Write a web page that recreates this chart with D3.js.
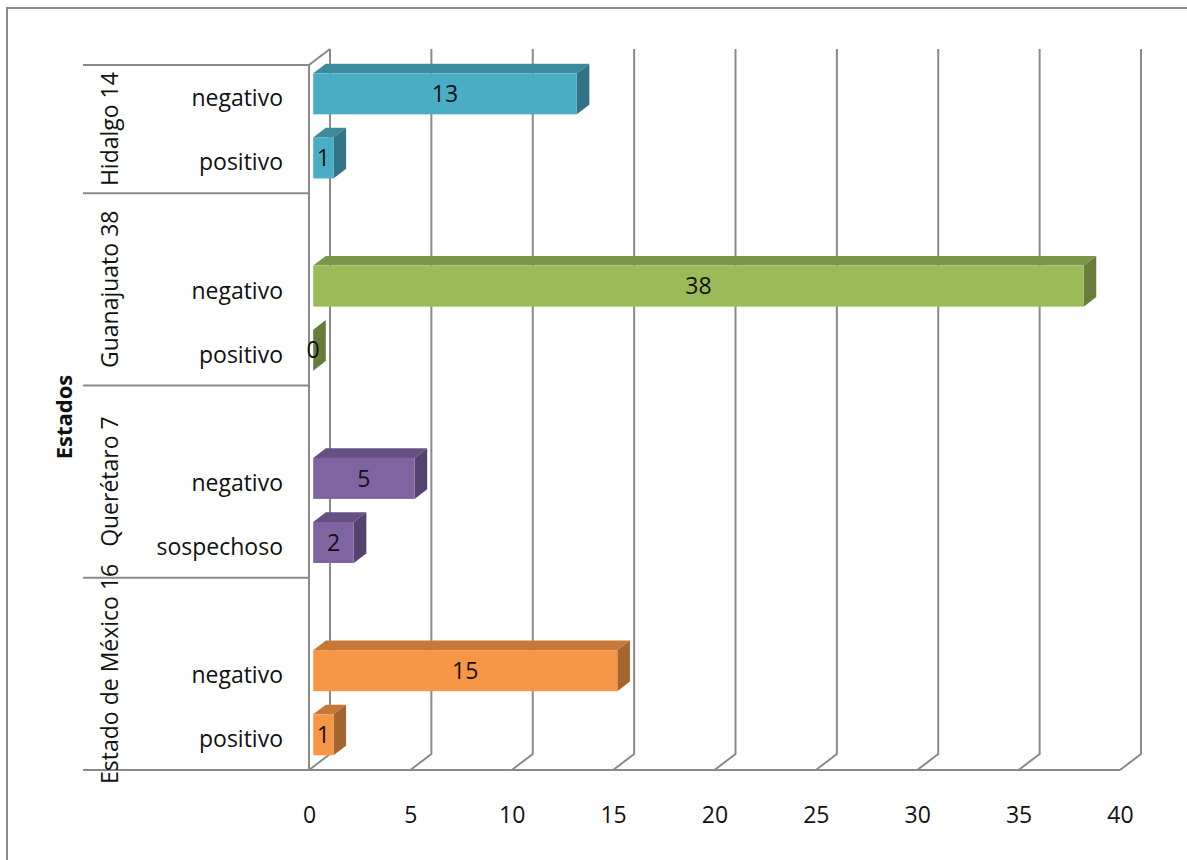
<!DOCTYPE html>
<html>
<head>
<meta charset="utf-8">
<script src="https://cdn.jsdelivr.net/npm/d3@7"></script>
<style>
  html, body { margin: 0; padding: 0; background: #fff; }
  svg { display: block; }
  text { font-family: "Open Sans", "Noto Sans", sans-serif; fill: #111; }
</style>
</head>
<body>
<svg id="chart" width="1187" height="860"></svg>
<script>
// Casos por estado y resultado (filas vacías separan los grupos)
const estados = ["Hidalgo 14", "Guanajuato 38", "Querétaro 7", "Estado de México 16"];
const filaEstado = [0, 0, 1, 1, 1, 2, 2, 2, 3, 3, 3];
const resultados = ["negativo", "positivo", "", "negativo", "positivo", "", "negativo", "sospechoso", "", "negativo", "positivo"];
const casos = [13, 1, null, 38, 0, null, 5, 2, null, 15, 1];
const coloresEstado = ["#4BACC6", "#9BBB59", "#8064A2", "#F79646"];
const ticksX = [0, 5, 10, 15, 20, 25, 30, 35, 40];
const tituloEje = "Estados";

const svg = d3.select("#chart");
const FONT = 23;
const gridColor = "#8a8a8a";

// Plano frontal del gráfico y profundidad de la perspectiva
const plot = { left: 309, right: 1120, top: 65, bottom: 770 };
const depth = { dx: 21, dy: -16 };
const barFront = 0.2, barBack = 0.8;

const x = d3.scaleLinear().domain([0, 40]).range([plot.left, plot.right]);
const y = d3.scaleBand()
  .domain(d3.range(resultados.length))
  .range([plot.top, plot.bottom])
  .paddingInner(0.36)
  .paddingOuter(0.18);
const slotTop = i => y(i) - y.step() * y.paddingInner() / 2;

// Marco exterior
svg.append("path")
  .attr("d", "M7,860 V8 H1187")
  .attr("fill", "none").attr("stroke", gridColor).attr("stroke-width", 2);

// Líneas de división en la pared del fondo y el piso
const grid = svg.append("g").attr("fill", "none").attr("stroke", gridColor).attr("stroke-width", 2);
grid.selectAll("path.v").data(ticksX).join("path")
  .attr("class", "v")
  .attr("d", t => `M${x(t) + depth.dx},${plot.top + depth.dy} V${plot.bottom + depth.dy} L${x(t)},${plot.bottom}`);

// Pared izquierda
grid.append("path")
  .attr("d", `M${x(0)},${plot.bottom} V${plot.top} L${x(0) + depth.dx},${plot.top + depth.dy}`);

// Separadores de grupos en el eje de categorías y borde del piso
const inicios = estados.map((e, k) => filaEstado.indexOf(k));
const limites = inicios.map(i => slotTop(i)).concat([plot.bottom]);
grid.selectAll("line.sep").data(limites).join("line")
  .attr("class", "sep")
  .attr("x1", 83).attr("x2", (d, i) => i === limites.length - 1 ? x(40) : x(0))
  .attr("y1", d => d).attr("y2", d => d);

// Barras 3D
const filas = casos.map((v, i) => ({ i, v, color: coloresEstado[filaEstado[i]] })).filter(d => d.v !== null);
const ddx = (barBack - barFront) * depth.dx, ddy = (barBack - barFront) * depth.dy;
const bars = svg.append("g").selectAll("g").data(filas).join("g");
bars.each(function (d) {
  const g = d3.select(this);
  const x0 = x(0) + barFront * depth.dx;
  const x1 = x(d.v) + barFront * depth.dx;
  const yt = y(d.i) + barFront * depth.dy;
  const yb = yt + y.bandwidth();
  const base = d3.color(d.color);
  const tone = k => { const c = d3.rgb(base); c.r *= k; c.g *= k; c.b *= k; return c.formatHex(); };
  g.append("path")
    .attr("d", `M${x0},${yt} L${x1},${yt} L${x1 + ddx},${yt + ddy} L${x0 + ddx},${yt + ddy} Z`)
    .attr("fill", tone(0.8));
  g.append("path")
    .attr("d", `M${x1},${yt} L${x1 + ddx},${yt + ddy} L${x1 + ddx},${yb + ddy} L${x1},${yb} Z`)
    .attr("fill", tone(0.67));
  g.append("rect")
    .attr("x", x0).attr("y", yt)
    .attr("width", x1 - x0).attr("height", y.bandwidth())
    .attr("fill", d.color);
  g.append("text")
    .attr("x", (x0 + x1) / 2).attr("y", (yt + yb) / 2)
    .attr("dy", "0.36em")
    .attr("text-anchor", "middle")
    .attr("font-size", FONT)
    .text(d.v);
});

// Eje de valores
const ejeX = svg.append("g")
  .attr("transform", `translate(0,${plot.bottom})`)
  .call(d3.axisBottom(x).tickValues(ticksX).tickSize(0).tickPadding(37));
ejeX.select(".domain").remove();
ejeX.selectAll("text").attr("font-size", FONT).attr("font-family", null).style("fill", "#111");

// Eje de categorías: resultados
const ejeY = svg.append("g")
  .attr("transform", `translate(${x(0)},0)`)
  .call(d3.axisLeft(y).tickSize(0).tickPadding(26).tickFormat(i => resultados[i]));
ejeY.select(".domain").remove();
ejeY.selectAll("text").attr("font-size", FONT).attr("font-family", null).attr("dy", "0.4em").style("fill", "#111");

// Eje de categorías: estados (texto vertical)
svg.append("g").selectAll("text").data(estados).join("text")
  .attr("transform", (e, k) => `translate(118,${(limites[k] + limites[k + 1]) / 2}) rotate(-90)`)
  .attr("text-anchor", "middle")
  .attr("font-size", FONT)
  .text(e => e);

// Título del eje
svg.append("text")
  .attr("transform", `translate(72,417) rotate(-90)`)
  .attr("text-anchor", "middle")
  .attr("font-size", 22)
  .attr("font-weight", "bold")
  .text(tituloEje);
</script>
</body>
</html>
